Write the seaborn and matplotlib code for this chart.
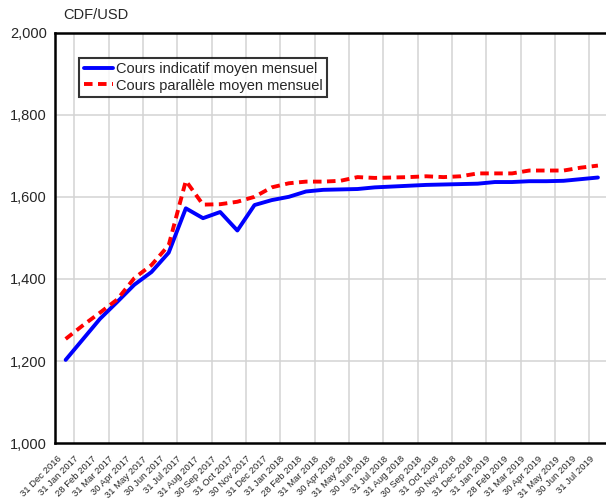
import matplotlib
matplotlib.use("Agg")
import matplotlib.pyplot as plt
import pandas as pd
import seaborn as sns

# month-end labels (31 Dec 2016 .. 31 Jul 2019)
dates = [
    "31 Dec 2016", "31 Jan 2017", "28 Feb 2017", "31 Mar 2017", "30 Apr 2017",
    "31 May 2017", "30 Jun 2017", "31 Jul 2017", "31 Aug 2017", "30 Sep 2017",
    "31 Oct 2017", "30 Nov 2017", "31 Dec 2017", "31 Jan 2018", "28 Feb 2018",
    "31 Mar 2018", "30 Apr 2018", "31 May 2018", "30 Jun 2018", "31 Jul 2018",
    "31 Aug 2018", "30 Sep 2018", "31 Oct 2018", "30 Nov 2018", "31 Dec 2018",
    "31 Jan 2019", "28 Feb 2019", "31 Mar 2019", "30 Apr 2019", "31 May 2019",
    "30 Jun 2019", "31 Jul 2019",
]

indicatif = [
    1203, 1253, 1303, 1344, 1386, 1417, 1464, 1572, 1548, 1563,
    1518, 1580, 1592, 1600, 1613, 1617, 1618, 1619, 1623, 1625,
    1627, 1629, 1630, 1631, 1632, 1636, 1636, 1638, 1638, 1639,
    1643, 1647,
]

parallele = [
    1254, 1287, 1318, 1350, 1402, 1434, 1482, 1639, 1581, 1582,
    1588, 1600, 1623, 1633, 1637, 1637, 1639, 1648, 1646, 1647,
    1648, 1650, 1648, 1650, 1657, 1657, 1657, 1664, 1664, 1664,
    1671, 1676,
]

lab_ind = "Cours indicatif moyen mensuel"
lab_par = "Cours parallèle moyen mensuel"

n = len(dates)
# points sit in the middle of each monthly slot
df = pd.DataFrame({
    "pos": [i + 0.5 for i in range(n)] * 2,
    "valeur": indicatif + parallele,
    "serie": [lab_ind] * n + [lab_par] * n,
})

sns.set_style("white")
plt.rcParams["font.family"] = ["Liberation Sans", "DejaVu Sans"]

fig = plt.figure(figsize=(6.06, 5.04), dpi=100)
ax = fig.add_axes([55 / 606, 60.7 / 504, 551 / 606, 410.8 / 504])

sns.lineplot(
    data=df, x="pos", y="valeur", hue="serie", style="serie",
    palette={lab_ind: "#0000ff", lab_par: "#ff0000"},
    dashes={lab_ind: "", lab_par: (2.2, 1.4)},
    linewidth=2.8, ax=ax, legend=False,
)

ax.set_xlim(-0.12, 31.97)
ax.set_ylim(1000, 2000)
ax.set_yticks(range(1000, 2001, 200))
ax.set_yticklabels([f"{v:,}" for v in range(1000, 2001, 200)], fontsize=10.5)
ax.set_xticks(range(n))
ax.set_xticklabels(dates, rotation=45, ha="right", rotation_mode="anchor", fontsize=6.8)
ax.set_xlabel("")
ax.set_ylabel("")

# grid: horizontal at every tick, vertical every second month
ax.grid(False)
for v in range(1200, 2000, 200):
    ax.axhline(v, color="#d3d3d3", lw=1.1, zorder=0)
for i in range(1, n, 2):
    ax.axvline(i, color="#d3d3d3", lw=1.1, zorder=0)

for side in ["left", "bottom", "top"]:
    ax.spines[side].set_color("black")
    ax.spines[side].set_linewidth(1.8)
ax.spines["right"].set_visible(False)
ax.tick_params(axis="x", direction="out", length=6, width=1, color="#333333", pad=2)
ax.tick_params(axis="y", direction="out", length=4, width=1, color="#333333", pad=2)

handles = [
    plt.Line2D([], [], color="#0000ff", lw=2.8),
    plt.Line2D([], [], color="#ff0000", lw=2.8, dashes=(2.2, 1.4)),
]
leg = ax.legend(
    handles, [lab_ind, lab_par], loc="upper left", bbox_to_anchor=(0.044, 0.938),
    fontsize=10.5, frameon=True, fancybox=False, edgecolor="black",
    handlelength=2.0, handletextpad=0.2, labelspacing=0.15, borderpad=0.3,
    borderaxespad=0,
)
leg.get_frame().set_linewidth(1.5)

fig.text(63 / 606, 1 - 15 / 504, "CDF/USD", fontsize=10.5, va="center", ha="left")

fig.savefig("out.png", dpi=100, facecolor="white")
